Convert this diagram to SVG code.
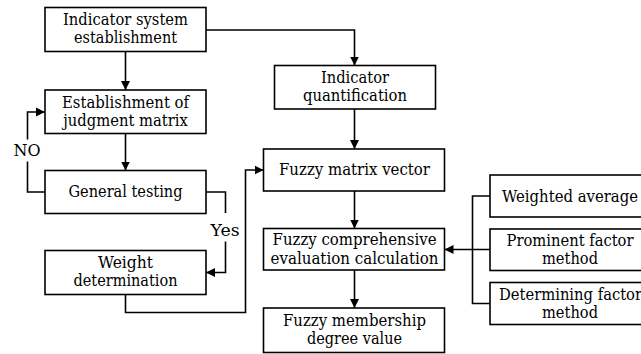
<svg xmlns="http://www.w3.org/2000/svg" width="641" height="354" viewBox="0 0 641 354">
  <style>
    .box { fill: #fff; stroke: #000; stroke-width: 1.6; }
    .lbl { font-family: 'DejaVu Serif', serif; font-size: 16px; fill: #000; text-anchor: middle; }
    .wire { fill: none; stroke: #000; stroke-width: 1.6; }
    .arr { marker-end: url(#head); }
  </style>
  <defs>
    <marker id="head" markerUnits="userSpaceOnUse" markerWidth="10" markerHeight="10" refX="9" refY="5" orient="auto">
      <path d="M0,0.5 L9,5 L0,9.5 Z" fill="#000"/>
    </marker>
  </defs>
  <rect width="641" height="354" fill="#fff"/>

  <!-- connectors -->
  <g id="connectors">
    <path class="wire arr" d="M125.5,51.5 V90"/>
    <path class="wire arr" d="M125.5,133.5 V170.5"/>
    <path class="wire arr" d="M45,192 H27.5 V112 H45"/>
    <path class="wire arr" d="M206,192 H225.5 V272.5 H206"/>
    <path class="wire arr" d="M125.5,294.5 V312.5 H245.5 V170 H263.5"/>
    <path class="wire arr" d="M206,30 H354.5 V65.5"/>
    <path class="wire arr" d="M354.5,109 V149"/>
    <path class="wire arr" d="M354.5,191 V228.5"/>
    <path class="wire arr" d="M354.5,270 V308"/>
    <path class="wire" d="M490,196 H472.5 V303.5 H490"/>
    <path class="wire arr" d="M490,249.5 H444.5"/>
    <rect x="12" y="139.5" width="31" height="22" fill="#fff"/>
    <text class="lbl" x="27" y="156" textLength="27" lengthAdjust="spacingAndGlyphs">NO</text>
    <rect x="209" y="213" width="32" height="28.5" fill="#fff"/>
    <text class="lbl" x="225" y="236" textLength="29" lengthAdjust="spacingAndGlyphs">Yes</text>
  </g>

  <g id="indicator-system">
    <rect class="box" x="45" y="7.5" width="161" height="44"/>
    <text class="lbl" x="125.5" y="25" textLength="125" lengthAdjust="spacingAndGlyphs">Indicator system</text>
    <text class="lbl" x="125.5" y="43" textLength="103" lengthAdjust="spacingAndGlyphs">establishment</text>
  </g>
  <g id="judgment-matrix">
    <rect class="box" x="45" y="90" width="161" height="43.5"/>
    <text class="lbl" x="125.5" y="107.5" textLength="127" lengthAdjust="spacingAndGlyphs">Establishment of</text>
    <text class="lbl" x="125.5" y="125.5" textLength="124.5" lengthAdjust="spacingAndGlyphs">judgment matrix</text>
  </g>
  <g id="general-testing">
    <rect class="box" x="45" y="170.5" width="161" height="43"/>
    <text class="lbl" x="125.5" y="197" textLength="114" lengthAdjust="spacingAndGlyphs">General testing</text>
  </g>
  <g id="weight-determination">
    <rect class="box" x="45" y="250.5" width="161" height="44"/>
    <text class="lbl" x="125.5" y="268" textLength="55" lengthAdjust="spacingAndGlyphs">Weight</text>
    <text class="lbl" x="125.5" y="286" textLength="104" lengthAdjust="spacingAndGlyphs">determination</text>
  </g>
  <g id="indicator-quantification">
    <rect class="box" x="274.5" y="65.5" width="161" height="43.5"/>
    <text class="lbl" x="355" y="83" textLength="68" lengthAdjust="spacingAndGlyphs">Indicator</text>
    <text class="lbl" x="355" y="101" textLength="104" lengthAdjust="spacingAndGlyphs">quantification</text>
  </g>
  <g id="fuzzy-matrix-vector">
    <rect class="box" x="263.5" y="149" width="181" height="42"/>
    <text class="lbl" x="354.5" y="175" textLength="151" lengthAdjust="spacingAndGlyphs">Fuzzy matrix vector</text>
  </g>
  <g id="fuzzy-evaluation">
    <rect class="box" x="263.5" y="228.5" width="181" height="41.5"/>
    <text class="lbl" x="354.5" y="245" textLength="164" lengthAdjust="spacingAndGlyphs">Fuzzy comprehensive</text>
    <text class="lbl" x="354.5" y="263.5" textLength="168" lengthAdjust="spacingAndGlyphs">evaluation calculation</text>
  </g>
  <g id="fuzzy-membership">
    <rect class="box" x="263.5" y="308" width="181" height="44.5"/>
    <text class="lbl" x="354.5" y="326" textLength="143" lengthAdjust="spacingAndGlyphs">Fuzzy membership</text>
    <text class="lbl" x="354.5" y="344" textLength="95" lengthAdjust="spacingAndGlyphs">degree value</text>
  </g>
  <g id="weighted-average">
    <rect class="box" x="490" y="175" width="162" height="42"/>
    <text class="lbl" x="570" y="202" textLength="136" lengthAdjust="spacingAndGlyphs">Weighted average</text>
  </g>
  <g id="prominent-factor">
    <rect class="box" x="490" y="229" width="162" height="41.5"/>
    <text class="lbl" x="570" y="246" textLength="127" lengthAdjust="spacingAndGlyphs">Prominent factor</text>
    <text class="lbl" x="570" y="264" textLength="56" lengthAdjust="spacingAndGlyphs">method</text>
  </g>
  <g id="determining-factor">
    <rect class="box" x="490" y="282.5" width="162" height="42"/>
    <text class="lbl" x="570.5" y="300" textLength="143" lengthAdjust="spacingAndGlyphs">Determining factor</text>
    <text class="lbl" x="570" y="318" textLength="56" lengthAdjust="spacingAndGlyphs">method</text>
  </g>
</svg>
